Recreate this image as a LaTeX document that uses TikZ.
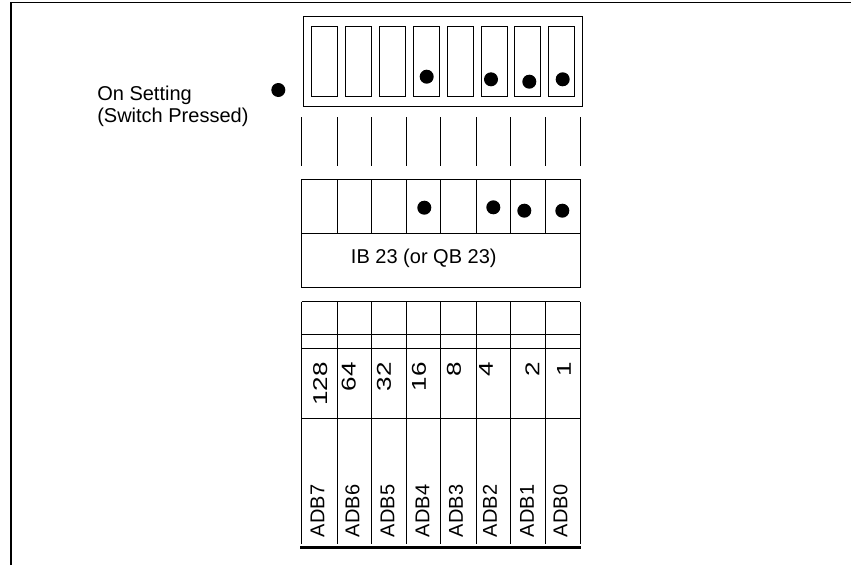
\documentclass[tikz,border=0pt]{standalone}
\usepackage{fontspec}
\setmainfont{Liberation Sans}
\begin{document}
\begin{tikzpicture}[x=1pt,y=-1pt,line width=0.9pt,
  lbl/.style={font=\fontsize{20}{24}\selectfont,inner sep=0pt,outer sep=0pt},
  vlbl/.style={lbl,rotate=90},
  dotnode/.style={circle,fill=black,draw=none,minimum size=14pt,inner sep=0pt}]
\useasboundingbox (0,0) rectangle (851,565);
% frame
\draw[line width=1.6pt] (11,565) -- (11,2.5) -- (851,2.5);
% switch block
\draw (303.3,16.7) rectangle (582.3,106);
\foreach \x in {311.7,345.3,379.7,413,447,481,514.7,548.7}
  \draw (\x,26) rectangle ++(26,70.7);
\node[dotnode] (s4) at (426.7,76.7) {};
\node[dotnode] (s2) at (491,79.3) {};
\node[dotnode] (s1) at (529.3,81.7) {};
\node[dotnode] (s0) at (562.7,79.3) {};
\node[dotnode] (legdot) at (278.3,90) {};
\node[lbl,anchor=base west] (on) at (97.3,100) {On Setting};
\node[lbl,anchor=base west] (sw) at (97.3,122.7) {(Switch Pressed)};
% columns
\foreach \x in {301.7,337.7,371.7,406,440.7,476,510.7,545.3,580} {
  \draw (\x,117.3) -- (\x,165.7);
  \draw (\x,179) -- (\x,233.3);
  \draw (\x,301.7) -- (\x,544);
}
\draw (301.7,179) -- (580,179);
\draw (301.7,233.3) rectangle (580,287.7);
\node[dotnode] (b4) at (424.3,207.7) {};
\node[dotnode] (b2) at (493.3,207.3) {};
\node[dotnode] (b1) at (524.3,210.7) {};
\node[dotnode] (b0) at (562.3,210.7) {};
\node[lbl,anchor=base] (ib) at (423.8,263.5) {IB 23 (or QB 23)};
% bottom table
\draw (301.7,301.7) -- (580,301.7);
\draw (301.7,334.3) -- (580,334.3);
\draw (301.7,348.3) -- (580,348.3);
\draw (301.7,418.3) -- (580,418.3);
\draw[line width=3pt] (300,547.7) -- (580.7,547.7);
% weights
\foreach \x/\t in {320.3/128,348.7/64,384/32,419/16,454/8,486/4,532.5/2,564/1}
  \node[vlbl,anchor=east] (w\t) at (\x,362.5) {\scalebox{1.3}[1]{\t}};
% bit names
\foreach \x/\t in {317.5/7,352.5/6,387.5/5,422.5/4,456/3,490/2,527/1,560.5/0}
  \node[vlbl,anchor=west] (adb\t) at (\x,537) {ADB\t};
\end{tikzpicture}
\end{document}
